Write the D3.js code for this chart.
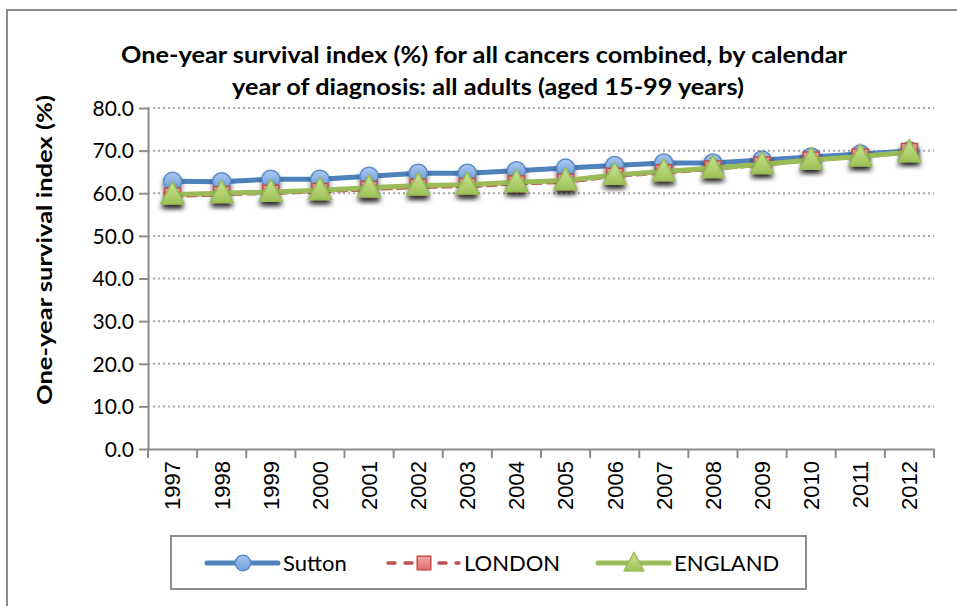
<!DOCTYPE html>
<html>
<head>
<meta charset="utf-8">
<script src="https://cdn.jsdelivr.net/npm/d3@7"></script>
<style>
  body { margin: 0; background: #fff; }
  svg { display: block; font-family: Lato, "Open Sans", sans-serif; }
</style>
</head>
<body>
<svg id="chart" width="957" height="606"></svg>
<script>
// chart values
var years = ["1997","1998","1999","2000","2001","2002","2003","2004",
             "2005","2006","2007","2008","2009","2010","2011","2012"];
var sutton  = [62.8, 62.7, 63.3, 63.3, 64.0, 64.7, 64.7, 65.3, 65.9, 66.5, 67.1, 67.1, 67.8, 68.5, 69.2, 69.9];
var london  = [59.3, 59.7, 60.0, 60.4, 60.9, 61.4, 61.6, 62.2, 62.6, 64.0, 64.8, 65.7, 66.6, 67.8, 68.5, 69.8];
var england = [59.7, 60.0, 60.3, 60.7, 61.3, 61.8, 62.0, 62.6, 63.0, 64.3, 65.1, 65.9, 66.8, 67.8, 68.6, 69.6];
var yTicks = [0,10,20,30,40,50,60,70,80];
var seriesNames = ["Sutton","LONDON","ENGLAND"];

var svg = d3.select("#chart");

// outer frame
svg.append("rect")
  .attr("x",7).attr("y",10).attr("width",960).attr("height",610)
  .attr("fill","none").attr("stroke","#8c8c8c").attr("stroke-width",2);

var defs = svg.append("defs");
var f = defs.append("filter").attr("id","shadow").attr("x","-50%").attr("y","-50%").attr("width","200%").attr("height","200%");
f.append("feDropShadow").attr("dx",0).attr("dy",3.5).attr("stdDeviation",2.4).attr("flood-color","#000").attr("flood-opacity",0.6);

function grad(id, c1, c2){
  var g = defs.append("linearGradient").attr("id",id).attr("x1",0).attr("y1",0).attr("x2",0).attr("y2",1);
  g.append("stop").attr("offset","0%").attr("stop-color",c1);
  g.append("stop").attr("offset","100%").attr("stop-color",c2);
}
grad("gBlue","#a9c8f0","#6f9fd8");
grad("gRed","#f4aaa8","#e06c69");
grad("gGreen","#cde596","#9dc256");

var x = d3.scaleBand().domain(years).range([148,934]);
var y = d3.scaleLinear().domain([0,80]).range([449,108]);

// gridlines
svg.append("g").selectAll("line")
  .data(yTicks.filter(function(d){return d>0;}))
  .enter().append("line")
  .attr("x1",148).attr("x2",934)
  .attr("y1",function(d){return y(d);}).attr("y2",function(d){return y(d);})
  .attr("stroke","#a6a6a6").attr("stroke-width",2).attr("stroke-dasharray","2,3");

// y axis
var yAxis = d3.axisLeft(y).tickValues(yTicks).tickSize(9).tickSizeOuter(0)
  .tickFormat(d3.format(".1f"));
var gy = svg.append("g").attr("transform","translate(148,0)").call(yAxis);
gy.select(".domain").attr("stroke","#8c8c8c").attr("stroke-width",2);
gy.selectAll(".tick line").attr("stroke","#8c8c8c").attr("stroke-width",2);
gy.selectAll("text").attr("font-size",21).attr("fill","#000").attr("x",-14)
  .attr("font-family","Lato, sans-serif").attr("dy","0.35em");

// x axis, ticks at category boundaries
var xAxis = d3.axisBottom(x).tickSize(0).tickSizeOuter(0);
var gx = svg.append("g").attr("transform","translate(0,449)").call(xAxis);
gx.select(".domain").attr("stroke","#8c8c8c").attr("stroke-width",2);
gx.selectAll("text")
  .attr("font-size",22).attr("fill","#000")
  .attr("transform","rotate(-90)")
  .attr("x",-12).attr("y",0).attr("dy","0.36em")
  .style("text-anchor","end");
gx.selectAll(".bounds").data(years.concat(["end"])).enter().append("line")
  .attr("x1",function(d,i){return x.range()[0]+i*x.step();})
  .attr("x2",function(d,i){return x.range()[0]+i*x.step();})
  .attr("y1",0).attr("y2",9)
  .attr("stroke","#8c8c8c").attr("stroke-width",2);

// series
var series = [
  {name:"Sutton", values:sutton, color:"#4f81bd", dash:null, width:5, marker:"circle", fill:"url(#gBlue)", mstroke:"#5a8ccc"},
  {name:"LONDON", values:london, color:"#c0504d", dash:"9,6", width:3.5, marker:"square", fill:"url(#gRed)", mstroke:"#c9504c"},
  {name:"ENGLAND", values:england, color:"#9bbb59", dash:null, width:5, marker:"triangle", fill:"url(#gGreen)", mstroke:"#9bbb59"}
];

var line = d3.line()
  .x(function(d,i){return x(years[i])+x.bandwidth()/2;})
  .y(function(d){return y(d);});

function drawMarker(g, type, fill, stroke, size){
  if(type==="circle"){
    g.append("circle").attr("r",size).attr("fill",fill).attr("stroke",stroke).attr("stroke-width",1.5);
  } else if(type==="square"){
    g.append("rect").attr("x",-size).attr("y",-size).attr("width",2*size).attr("height",2*size)
      .attr("fill",fill).attr("stroke",stroke).attr("stroke-width",1.5);
  } else {
    g.append("path").attr("d","M0,"+(-size*1.15)+"L"+(size*1.05)+","+(size*0.85)+"L"+(-size*1.05)+","+(size*0.85)+"Z")
      .attr("fill",fill).attr("stroke",stroke).attr("stroke-width",1.5).attr("stroke-linejoin","round");
  }
}

var sizes = {circle:9, square:8, triangle:11};

series.forEach(function(s){
  var g = svg.append("g");
  g.append("path").datum(s.values)
    .attr("d",line).attr("fill","none")
    .attr("stroke",s.color).attr("stroke-width",s.width)
    .attr("stroke-linecap","round").attr("stroke-linejoin","round")
    .attr("stroke-dasharray",s.dash);
  g.selectAll(".m").data(s.values).enter().append("g")
    .attr("filter","url(#shadow)")
    .attr("transform",function(d,i){return "translate("+(x(years[i])+x.bandwidth()/2)+","+y(d)+")";})
    .each(function(){ drawMarker(d3.select(this), s.marker, s.fill, s.mstroke, sizes[s.marker]); });
});

// title
svg.append("text").attr("x",484).attr("y",63).attr("text-anchor","middle")
  .attr("font-size",22).attr("font-weight","bold").attr("fill","#000")
  .attr("textLength",726).attr("lengthAdjust","spacingAndGlyphs")
  .text("One-year survival index (%) for all cancers combined, by calendar");
svg.append("text").attr("x",488).attr("y",95).attr("text-anchor","middle")
  .attr("font-size",22).attr("font-weight","bold").attr("fill","#000")
  .attr("textLength",512).attr("lengthAdjust","spacingAndGlyphs")
  .text("year of diagnosis: all adults (aged 15-99 years)");

// y axis title
svg.append("text")
  .attr("transform","translate(52,250) rotate(-90)")
  .attr("text-anchor","middle")
  .attr("font-size",21).attr("font-weight","bold").attr("fill","#000")
  .attr("textLength",310).attr("lengthAdjust","spacingAndGlyphs")
  .text("One-year survival index (%)");

// legend
svg.append("rect").attr("x",171).attr("y",536).attr("width",635).attr("height",53)
  .attr("fill","#fff").attr("stroke","#8c8c8c").attr("stroke-width",2);
var legX = [207, 388, 598];
var leg = svg.selectAll(".leg").data(series).enter().append("g")
  .attr("transform",function(d,i){return "translate("+legX[i]+",563)";});
leg.append("line").attr("x1",0).attr("x2",71).attr("y1",0).attr("y2",0)
  .attr("stroke",function(d){return d.color;})
  .attr("stroke-width",function(d){return d.width;})
  .attr("stroke-linecap","round")
  .attr("stroke-dasharray",function(d){return d.dash ? "7,10" : null;});
leg.each(function(d){
  var m = d3.select(this).append("g").attr("transform","translate(36,0)");
  drawMarker(m, d.marker, d.fill, d.mstroke, sizes[d.marker]*0.85);
});
leg.append("text").attr("x",76).attr("y",0).attr("dy","0.36em")
  .attr("font-size",22).attr("fill","#000")
  .text(function(d){return d.name;});
</script>
</body>
</html>
